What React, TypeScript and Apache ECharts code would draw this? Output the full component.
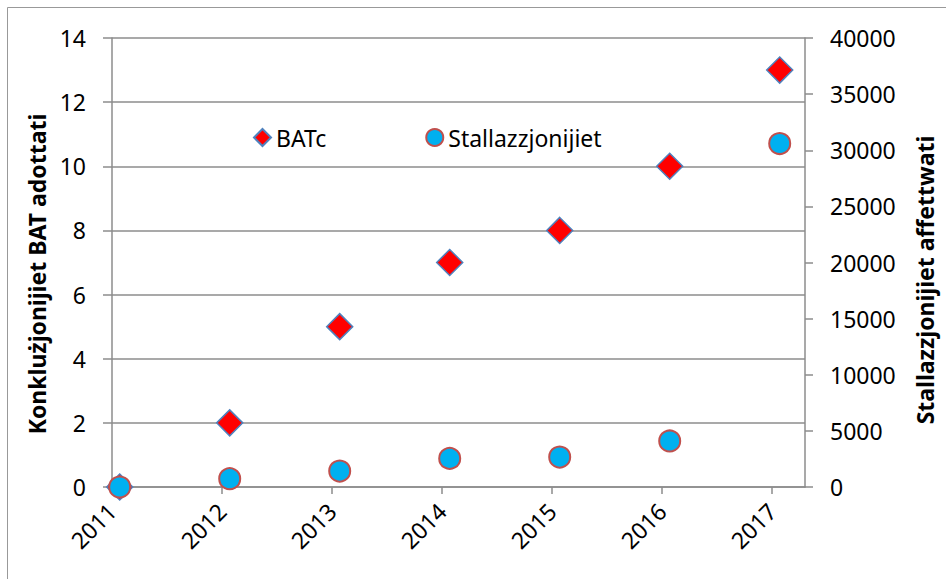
import React, { useEffect, useRef } from "react";
import * as echarts from "echarts";

const years = [2011, 2012, 2013, 2014, 2015, 2016, 2017];
const xDates = [2011.07, 2012.07, 2013.07, 2014.07, 2015.07, 2016.07, 2017.07];
const batc = [0, 2, 5, 7, 8, 10, 13];
const installations = [0, 740, 1420, 2550, 2670, 4100, 30600];
const leftTitle = "Konklużjonijiet BAT adottati";
const rightTitle = "Stallazzjonijiet affettwati";
const seriesNames = ["BATc", "Stallazzjonijiet"];

const FONT = "Noto Sans";
const GRID = "#8c8c8c";

export default function App() {
  const ref = useRef<HTMLDivElement>(null);
  useEffect(() => {
    if (!ref.current) return;
    const chart = echarts.init(ref.current, undefined, { renderer: "svg" });
    const lineStyle = { color: GRID, width: 1.5 };
    chart.setOption({
      animation: false,
      backgroundColor: "#ffffff",
      textStyle: { fontFamily: FONT },
      grid: { left: 112, right: 141, top: 38, bottom: 92 },
      legend: {
        left: 248,
        top: 121,
        itemWidth: 17,
        itemHeight: 17,
        itemGap: 99,
        textStyle: { fontFamily: FONT, fontSize: 23, color: "#000" },
        data: seriesNames,
      },
      xAxis: {
        type: "value",
        min: 2011,
        max: 2017.3,
        interval: 1,
        splitLine: { show: false },
        axisLine: { show: true, lineStyle },
        axisTick: { show: true, length: 7, lineStyle, customValues: years },
        axisLabel: {
          customValues: years,
          rotate: 45,
          margin: 20,
          fontFamily: FONT,
          fontSize: 23,
          color: "#000",
          formatter: (v: number) => String(Math.round(v)),
        },
      },
      yAxis: [
        {
          type: "value",
          min: 0,
          max: 14,
          interval: 2,
          position: "left",
          axisLine: { show: true, lineStyle },
          axisTick: { show: true, length: 9, lineStyle },
          splitLine: { show: true, lineStyle },
          axisLabel: { margin: 26, fontFamily: FONT, fontSize: 23, color: "#000" },
        },
        {
          type: "value",
          min: 0,
          max: 40000,
          interval: 5000,
          position: "right",
          axisLine: { show: true, lineStyle },
          axisTick: { show: true, length: 8, lineStyle },
          splitLine: { show: false },
          axisLabel: {
            margin: 25,
            fontFamily: FONT,
            fontSize: 23,
            color: "#000",
            formatter: (v: number) => String(v),
          },
        },
      ],
      series: [
        {
          name: seriesNames[0],
          type: "scatter",
          yAxisIndex: 0,
          symbol: "diamond",
          symbolSize: 26,
          itemStyle: { color: "#ff0000", borderColor: "#4f81bd", borderWidth: 1.5, opacity: 1 },
          data: xDates.map((x, i) => [x, batc[i]]),
        },
        {
          name: seriesNames[1],
          type: "scatter",
          yAxisIndex: 1,
          symbol: "circle",
          symbolSize: 21,
          itemStyle: { color: "#00b0f0", borderColor: "#c0504d", borderWidth: 2, opacity: 1 },
          data: xDates.map((x, i) => [x, installations[i]]),
        },
      ],
      graphic: [
        {
          type: "rect",
          shape: { x: 7.5, y: 7.5, width: 1000, height: 1000 },
          style: { fill: "none", stroke: "#999", lineWidth: 1 },
          silent: true,
        },
        {
          type: "text",
          x: 37,
          y: 274,
          rotation: Math.PI / 2,
          style: {
            text: leftTitle,
            fontFamily: FONT,
            fontSize: 23,
            fontWeight: "bold",
            fill: "#000",
            align: "center",
            verticalAlign: "middle",
          },
        },
        {
          type: "text",
          x: 925,
          y: 280,
          rotation: Math.PI / 2,
          style: {
            text: rightTitle,
            fontFamily: FONT,
            fontSize: 23,
            fontWeight: "bold",
            fill: "#000",
            align: "center",
            verticalAlign: "middle",
          },
        },
      ],
    });
    return () => chart.dispose();
  }, []);
  return (
    <div
      ref={ref}
      style={{ position: "fixed", left: 0, top: 0, width: 946, height: 579 }}
    />
  );
}
